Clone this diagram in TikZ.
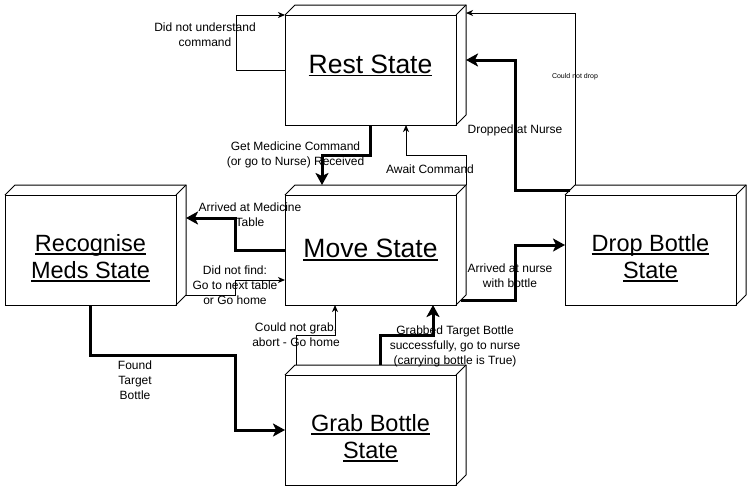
\documentclass[tikz,border=0pt]{standalone}
\usepackage{fontspec}
\setmainfont{Liberation Sans}
\usetikzlibrary{arrows.meta}

\newcommand{\uln}[1]{\setbox0\hbox{#1}\rlap{\rule[-3pt]{\wd0}{1.3pt}}\box0}

\tikzset{
	state/.style={draw, line width=1pt, minimum width=171pt, minimum height=110pt, inner sep=0pt, outer sep=0pt},
	sttitle/.style={align=center, inner sep=0pt, font=\fontsize{26.5}{30}\selectfont},
	sttitletwo/.style={align=center, inner sep=0pt, yshift=-8pt, font=\fontsize{23.5}{27}\selectfont},
	lbl/.style={align=center, inner sep=0pt, font=\fontsize{12}{15}\selectfont},
	mainarrow/.style={line width=3pt, -{Stealth[length=12pt, width=13pt, inset=3pt]}},
	sidearrow/.style={line width=1pt, -{Stealth[length=7pt, width=6pt, inset=2pt]}},
}

\begin{document}
\begin{tikzpicture}[x=1pt, y=-1pt]
		\fill[white] (0,0) rectangle (751,501);
		\useasboundingbox (0,0) rectangle (751,501);

		\node[state, label={[sttitle, yshift=4.7pt]center:\uln{Rest State}}] (rest) at (370.5,70) {};
		\node[state, label={[sttitle]center:\uln{Move State}}] (move) at (370.5,250) {};
		\node[state, label={[sttitletwo]center:{\uln{Recognise}\\\uln{Meds State}}}] (recog) at (90.5,250) {};
		\node[state, label={[sttitletwo]center:{\uln{Drop Bottle}\\\uln{State}}}] (drop) at (650.5,250) {};
		\node[state, label={[sttitletwo]center:{\uln{Grab Bottle}\\\uln{State}}}] (grab) at (370.5,430) {};

		\foreach \n in {rest, move, recog, drop, grab} {
			\draw[line width=1pt] (\n.north west) -- ++(10,-10) -- ([shift={(10pt,10pt)}]\n.north east) -- ([shift={(10pt,10pt)}]\n.south east) -- (\n.south east);
			\draw[line width=1pt] (\n.north east) -- ++(10,-10);
		}

		\draw[sidearrow] (rest.west) -- ++(-49,0) |- (rest.north west);
		\draw[mainarrow] (rest.south) -- ++(0,30) -| ([shift={(-48.5pt,10pt)}]move.north);
		\draw[sidearrow] ([shift={(10pt,10pt)}]move.north east) -- ++(0,-30) -| ([xshift=35.5pt]rest.south);
		\draw[mainarrow] (move.west) -- ++(-50,0) |- ([shift={(10pt,32pt)}]recog.east);
		\draw[sidearrow] ([shift={(10pt,10pt)}]recog.south east) -- ++(49,0) |- ([yshift=-30pt]move.west);
		\draw[mainarrow] (recog.south) -- ++(0,50) -| ([xshift=-50pt]grab.west) -- (grab.west);
		\draw[sidearrow] ([shift={(-74.5pt,10pt)}]grab.north) -- ++(0,-30) -| ([xshift=-35.5pt]move.south);
		\draw[mainarrow] ([shift={(9.5pt,10pt)}]grab.north) -- ++(0,-30) -| ([xshift=62.5pt]move.south);
		\draw[mainarrow] ([shift={(5pt,5pt)}]move.south east) -- ++(54,0) |- ([yshift=5pt]drop.west);
		\draw[mainarrow] ([shift={(5pt,5pt)}]drop.north west) -- ++(-55,0) |- ([shift={(10pt,10pt)}]rest.east);
		\draw[sidearrow] ([shift={(10pt,10pt)}]drop.north west) |- ([shift={(10pt,57pt)}]rest.east);

		\node[lbl] (lunderstand) at (205,35) {Did not understand\\command};
		\node[lbl] (lgetmed) at (295.5,155) {Get Medicine Command\\(or go to Nurse) Received};
		\node[lbl] (lawait) at (430,169) {Await Command};
		\node[lbl] (larrived) at (250,215) {Arrived at Medicine\\Table};
		\node[lbl] (lnotfind) at (235,285) {Did not find:\\Go to next table\\or Go home};
		\node[lbl] (lfound) at (135,380) {Found\\Target\\Bottle};
		\node[lbl] (lnograb) at (296,335) {Could not grab,\\abort - Go home};
		\node[lbl] (lgrabbed) at (455,346) {Grabbed Target Bottle\\successfully, go to nurse\\(carrying bottle is True)};
		\node[lbl] (lnurse) at (510,276) {Arrived at nurse\\with bottle};
		\node[lbl] (ldropped) at (515,130) {Dropped at Nurse};
		\node[lbl, font=\fontsize{7}{8}\selectfont] (lnodrop) at (575,77) {Could not drop};
	\end{tikzpicture}
\end{document}
